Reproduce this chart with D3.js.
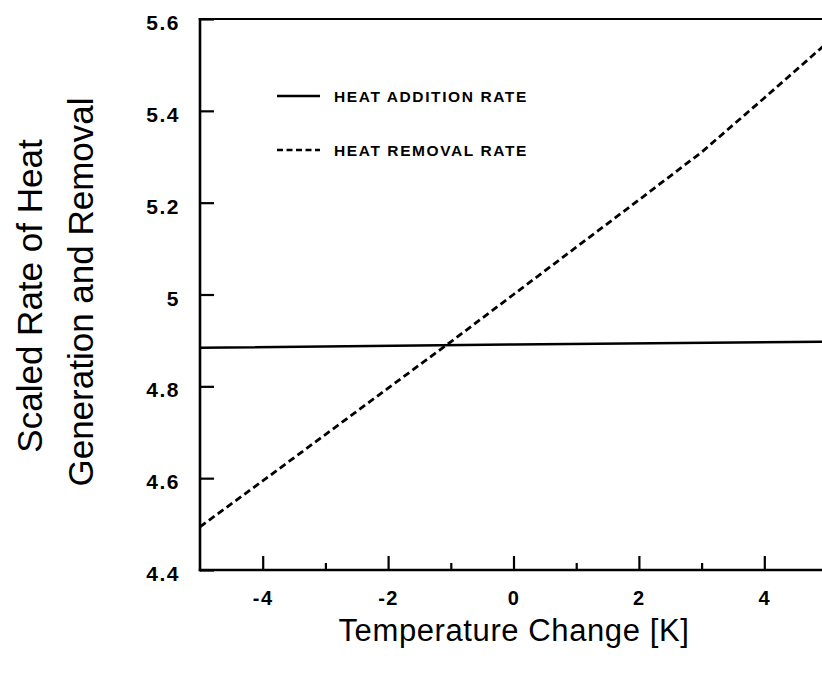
<!DOCTYPE html>
<html>
<head>
<meta charset="utf-8">
<script src="https://cdn.jsdelivr.net/npm/d3@7"></script>
<style>
  html, body { margin: 0; padding: 0; background: #fff; }
  svg { display: block; }
  text { font-family: "Liberation Sans", Arial, sans-serif; fill: #000; }
</style>
</head>
<body>
<div id="chart"></div>
<script>
// ---- data ----
const tempChange = [-5, -4, -3, -2, -1, 0, 1, 2, 3, 4, 5];
const heatRemoval = [4.494, 4.594, 4.695, 4.796, 4.897, 5.0, 5.103, 5.206, 5.31, 5.428, 5.548];
const additionX = [-5, 0, 5];
const heatAddition = [4.884, 4.891, 4.897];
const xTicks = [-4, -2, 0, 2, 4];
const xMinorTicks = [-3, -1, 1, 3];
const yTicks = [4.4, 4.6, 4.8, 5.0, 5.2, 5.4, 5.6];
const yTickLabels = ["4.4", "4.6", "4.8", "5", "5.2", "5.4", "5.6"];
const legendLabels = ["HEAT ADDITION RATE", "HEAT REMOVAL RATE"];
const xTitle = "Temperature Change [K]";
const yTitleLines = ["Scaled Rate of Heat", "Generation and Removal"];

// ---- layout ----
const W = 822, H = 681;
const mLeft = 200, mRight = 827, mTop = 19, mBottom = 570;

const svg = d3.select("#chart").append("svg")
  .attr("width", W).attr("height", H);

const x = d3.scaleLinear().domain([-5, 5]).range([mLeft, mRight]);
const y = d3.scaleLinear().domain([4.4, 5.6]).range([mBottom, mTop]);

// lines
const lineGen = d3.line().x(d => x(d[0])).y(d => y(d[1]));

svg.append("path")
  .datum(additionX.map((v, i) => [v, heatAddition[i]]))
  .attr("d", lineGen)
  .attr("fill", "none").attr("stroke", "#000").attr("stroke-width", 2.5);

svg.append("path")
  .datum(tempChange.map((v, i) => [v, heatRemoval[i]]))
  .attr("d", lineGen)
  .attr("fill", "none").attr("stroke", "#000").attr("stroke-width", 2.8)
  .attr("stroke-dasharray", "7,4");

// frame: left axis, bottom axis, top border
svg.append("line").attr("x1", mLeft).attr("x2", mLeft).attr("y1", mTop - 1).attr("y2", mBottom + 1.3)
  .attr("stroke", "#000").attr("stroke-width", 2.6);
svg.append("line").attr("x1", mLeft - 1.3).attr("x2", W).attr("y1", mBottom).attr("y2", mBottom)
  .attr("stroke", "#000").attr("stroke-width", 2.6);
svg.append("line").attr("x1", mLeft - 1.3).attr("x2", W).attr("y1", mTop).attr("y2", mTop)
  .attr("stroke", "#000").attr("stroke-width", 2.2);

// x axis ticks (inward)
const xAxis = d3.axisBottom(x).tickValues(xTicks).tickSize(-14).tickPadding(21)
  .tickFormat(d3.format("d"));
const gx = svg.append("g").attr("transform", `translate(0,${mBottom})`).call(xAxis);
gx.select(".domain").remove();
gx.selectAll(".tick line").attr("stroke", "#000").attr("stroke-width", 2.2);
gx.selectAll(".tick text")
  .attr("font-size", 20).attr("font-weight", "bold")
  .attr("font-family", "Liberation Sans, Arial, sans-serif")
  .attr("letter-spacing", "1.5px")
  .text(d => d < 0 ? "-" + Math.abs(d) : String(d));

const xAxisMinor = d3.axisBottom(x).tickValues(xMinorTicks).tickSize(-7).tickFormat("");
const gxm = svg.append("g").attr("transform", `translate(0,${mBottom})`).call(xAxisMinor);
gxm.select(".domain").remove();
gxm.selectAll(".tick line").attr("stroke", "#000").attr("stroke-width", 2.2);

// y axis ticks (inward)
const yAxis = d3.axisLeft(y).tickValues(yTicks).tickSize(-14).tickPadding(20)
  .tickFormat((d, i) => yTickLabels[i]);
const gy = svg.append("g").attr("transform", `translate(${mLeft},0)`).call(yAxis);
gy.select(".domain").remove();
gy.selectAll(".tick line").attr("stroke", "#000").attr("stroke-width", 2.2);
gy.selectAll(".tick text")
  .attr("font-size", 21).attr("font-weight", "bold")
  .attr("font-family", "Liberation Sans, Arial, sans-serif")
  .attr("letter-spacing", "1.5px")
  .attr("dy", "0.5em");

// legend
const legend = svg.append("g");
const legendY = [96, 150];
const dashes = [null, "6,3.5"];
legendLabels.forEach((lab, i) => {
  legend.append("line")
    .attr("x1", 277).attr("x2", 320).attr("y1", legendY[i]).attr("y2", legendY[i])
    .attr("stroke", "#000").attr("stroke-width", 2.4)
    .attr("stroke-dasharray", dashes[i]);
  legend.append("text")
    .attr("x", 334).attr("y", legendY[i]).attr("dy", "0.36em")
    .attr("font-size", 15.5).attr("font-weight", "bold")
    .attr("letter-spacing", "1.6px")
    .text(lab);
});

// axis titles
svg.append("text")
  .attr("x", 514).attr("y", 641)
  .attr("text-anchor", "middle")
  .attr("font-size", 31)
  .attr("letter-spacing", "0.6px")
  .text(xTitle);

const yt = svg.append("g");
yt.append("text")
  .attr("transform", "translate(42,296) rotate(-90)")
  .attr("text-anchor", "middle").attr("font-size", 35)
  .text(yTitleLines[0]);
yt.append("text")
  .attr("transform", "translate(93,292) rotate(-90)")
  .attr("text-anchor", "middle").attr("font-size", 35)
  .text(yTitleLines[1]);
</script>
</body>
</html>
